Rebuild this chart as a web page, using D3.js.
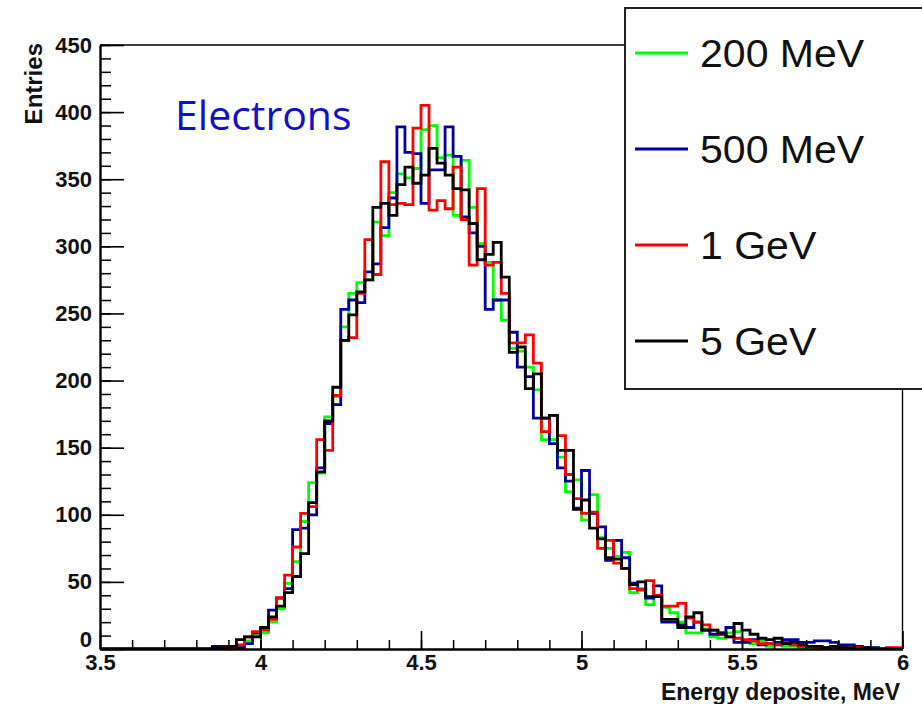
<!DOCTYPE html>
<html lang="en">
<head>
  <meta charset="UTF-8">
  <title>Energy deposite - Electrons</title>
  <script src="https://d3js.org/d3.v7.min.js"></script>
  <style>
    body { margin: 0; background: #fff; }
    svg { display: block; }
  </style>
</head>
<body>
<svg id="chart" width="922" height="704"></svg>
<script>
// histogram binning: 100 bins of 0.025 MeV from 3.5 to 6
const binLow = 3.5;
const binWidth = 0.025;

// bin contents (bins 0..99)
const counts200MeV = [
  0,0,0,0,0,0,0,0,0,0,
  0,0,0,0,0,0,1,2,6,11,
  12,20,30,49,65,95,124,131,173,188,
  240,265,273,275,318,308,340,354,351,358,
  387,390,366,368,323,364,329,302,288,260,
  245,224,222,210,193,156,156,143,117,126,
  96,115,83,75,69,72,42,45,33,40,
  31,27,20,12,12,15,9,8,12,13,
  5,4,6,2,3,2,2,1,1,1,
  1,0,1,0,0,0,1,0,0,0
];
const counts500MeV = [
  0,0,0,0,0,0,0,0,0,0,
  0,0,0,0,2,2,1,1,4,12,
  15,29,38,45,89,90,100,135,168,182,
  253,260,258,281,287,314,336,389,370,369,
  332,357,357,389,367,322,310,300,253,260,
  260,236,210,203,172,172,153,135,125,105,
  133,101,91,66,81,68,49,44,38,47,
  20,20,18,16,20,14,11,11,16,5,
  5,7,3,4,5,7,7,5,5,6,
  6,5,3,3,2,1,1,0,0,0
];
const counts1GeV = [
  0,0,0,0,0,0,0,0,0,0,
  0,0,0,0,0,1,1,3,9,13,
  14,22,38,55,76,101,106,156,148,189,
  230,232,265,305,279,363,331,332,331,388,
  405,327,334,328,359,320,286,343,286,288,
  265,228,228,234,213,162,174,159,130,112,
  101,102,75,81,64,60,45,44,51,40,
  32,32,34,23,20,18,14,12,9,8,
  7,6,4,4,3,5,3,2,2,1,
  1,1,1,0,1,0,0,0,1,1
];
const counts5GeV = [
  0,0,0,0,0,0,0,0,0,0,
  0,0,0,0,1,1,2,7,9,9,
  16,24,32,42,54,71,109,132,170,195,
  230,249,266,275,329,332,323,346,359,347,
  353,373,362,353,343,342,317,290,294,303,
  277,221,225,194,205,172,174,148,148,104,
  111,90,82,68,67,60,48,50,39,39,
  22,22,16,24,27,14,14,12,9,19,
  14,11,8,7,8,4,5,3,2,2,
  1,2,1,1,0,1,0,0,0,0
];

const seriesNames = ["200 MeV", "500 MeV", "1 GeV", "5 GeV"];
const seriesColors = ["#00ff00", "#00009c", "#ff0000", "#000000"];
const seriesCounts = [counts200MeV, counts500MeV, counts1GeV, counts5GeV];

const xTicks = [3.5, 4, 4.5, 5, 5.5, 6];
const yTicks = [0, 50, 100, 150, 200, 250, 300, 350, 400, 450];

const svg = d3.select("#chart");
const fontAxis = "'Liberation Sans', Arial, Helvetica, sans-serif";

const x = d3.scaleLinear().domain([3.5, 6]).range([100, 902.5]);
const y = d3.scaleLinear().domain([0, 450]).range([649, 45]);

svg.append("rect").attr("width", 922).attr("height", 704).attr("fill", "#fff");

svg.append("clipPath").attr("id", "frame")
  .append("rect")
  .attr("x", x(3.5)).attr("y", y(450))
  .attr("width", x(6) - x(3.5)).attr("height", y(0) - y(450));

// frame top and right
svg.append("line")
  .attr("x1", x(3.5)).attr("x2", x(6)).attr("y1", y(450)).attr("y2", y(450))
  .attr("stroke", "#000").attr("stroke-width", 1.4);
svg.append("line")
  .attr("x1", x(6)).attr("x2", x(6)).attr("y1", y(450)).attr("y2", y(0))
  .attr("stroke", "#000").attr("stroke-width", 1.4);

// histograms
const step = d3.line()
  .x(d => x(d[0]))
  .y(d => y(d[1]))
  .curve(d3.curveStepAfter);

const histG = svg.append("g").attr("clip-path", "url(#frame)");
seriesCounts.forEach((counts, s) => {
  const pts = counts.map((c, i) => [binLow + i * binWidth, c]);
  pts.push([binLow + counts.length * binWidth, counts[counts.length - 1]]);
  histG.append("path")
    .attr("d", step(pts))
    .attr("fill", "none")
    .attr("stroke", seriesColors[s])
    .attr("stroke-width", 2.8);
});

// minor ticks
svg.append("g")
  .attr("transform", `translate(${x(3.5)},0)`)
  .call(d3.axisLeft(y).tickValues(d3.range(0, 451, 10)).tickSizeInner(-11).tickSizeOuter(0).tickFormat(""))
  .call(g => g.select(".domain").remove())
  .call(g => g.selectAll("line").attr("stroke-width", 1.5));
svg.append("g")
  .attr("transform", `translate(0,${y(0)})`)
  .call(d3.axisBottom(x).tickValues(d3.range(3.5, 6.01, 0.1)).tickSizeInner(-9).tickSizeOuter(0).tickFormat(""))
  .call(g => g.select(".domain").remove())
  .call(g => g.selectAll("line").attr("stroke-width", 1.5));

// major axes
const yAxis = svg.append("g")
  .attr("transform", `translate(${x(3.5)},0)`)
  .call(d3.axisLeft(y).tickValues(yTicks).tickSizeInner(-24).tickSizeOuter(0).tickPadding(8));
const xAxis = svg.append("g")
  .attr("transform", `translate(0,${y(0)})`)
  .call(d3.axisBottom(x).tickValues(xTicks).tickSizeInner(-18).tickSizeOuter(0).tickPadding(5).tickFormat(d3.format("")));

[yAxis, xAxis].forEach(g => {
  g.select(".domain").attr("stroke-width", 2.4);
  g.selectAll(".tick line").attr("stroke-width", 1.6);
  g.selectAll("text")
    .attr("fill", "#111")
    .style("font-family", fontAxis)
    .style("font-weight", "bold")
    .style("font-size", "22px");
});
// the zero label sits just above the x labels
yAxis.selectAll(".tick text").filter(d => d === 0).attr("dy", "-0.12em");

// axis titles
svg.append("text")
  .attr("transform", "translate(42,43) rotate(-90)")
  .attr("text-anchor", "end")
  .style("font-family", fontAxis).style("font-weight", "bold").style("font-size", "24px")
  .attr("fill", "#111")
  .text("Entries");
svg.append("text")
  .attr("x", 900).attr("y", 700)
  .attr("text-anchor", "end")
  .style("font-family", fontAxis).style("font-weight", "bold").style("font-size", "23px")
  .attr("fill", "#111")
  .text("Energy deposite, MeV");

// label
svg.append("text")
  .attr("x", 175).attr("y", 130)
  .style("font-family", "'Open Sans', 'Noto Sans', sans-serif")
  .style("font-size", "41px")
  .attr("fill", "#1010cc")
  .text("Electrons");

// legend
const legend = svg.append("g");
legend.append("rect")
  .attr("x", 625).attr("y", 8).attr("width", 320).attr("height", 381)
  .attr("fill", "#fff").attr("stroke", "#222").attr("stroke-width", 2);
seriesNames.forEach((name, i) => {
  const ly = 53 + i * 96;
  legend.append("line")
    .attr("x1", 635).attr("x2", 688).attr("y1", ly).attr("y2", ly)
    .attr("stroke", seriesColors[i]).attr("stroke-width", 3);
  legend.append("text")
    .attr("transform", `translate(700,${ly + 14}) scale(1.08,1)`)
    .style("font-family", fontAxis)
    .style("font-size", "38px")
    .attr("fill", "#111")
    .text(name);
});
</script>
</body>
</html>
